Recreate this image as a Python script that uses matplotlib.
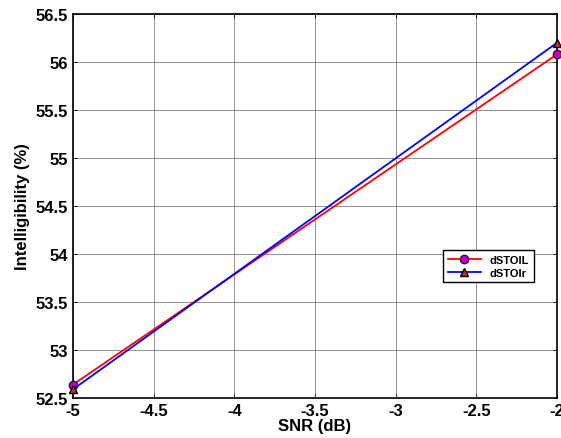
import matplotlib.pyplot as plt

snr = [-5, -2]
dstoil = [52.64, 56.08]
dstoir = [52.59, 56.20]

plt.rcParams['font.family'] = ['Liberation Sans', 'DejaVu Sans']
plt.rcParams['font.weight'] = 'bold'

fig = plt.figure(figsize=(5.61, 4.39), dpi=100)
ax = fig.add_axes([0.130, 0.091, 0.863, 0.875])

ax.plot(snr, dstoil, color='red', lw=1.3, marker='o', markersize=6,
        markerfacecolor='#bf00bf', markeredgecolor='#400040', label='dSTOIL', clip_on=False, zorder=3)
ax.plot(snr, dstoir, color='blue', lw=1.3, marker='^', markersize=6,
        markerfacecolor='#cc3300', markeredgecolor='black', label='dSTOIr', clip_on=False, zorder=3)

ax.set_xlim(-5, -2)
ax.set_ylim(52.5, 56.5)
ax.set_xticks([-5, -4.5, -4, -3.5, -3, -2.5, -2])
ax.set_xticklabels(['-5', '-4.5', '-4', '-3.5', '-3', '-2.5', '-2'])
ax.set_yticks([52.5, 53, 53.5, 54, 54.5, 55, 55.5, 56, 56.5])
ax.set_yticklabels(['52.5', '53', '53.5', '54', '54.5', '55', '55.5', '56', '56.5'])
ax.tick_params(direction='in', length=3, labelsize=12, width=0.6, top=True, right=True,
               labeltop=False, labelright=False)
ax.grid(True, color='#808080', lw=0.6)
for s in ax.spines.values():
    s.set_linewidth(1.2)

ax.set_xlabel('SNR (dB)', fontsize=12, fontweight='bold', labelpad=0)
ax.set_ylabel('Intelligibility (%)', fontsize=12, fontweight='bold', labelpad=4)

leg = ax.legend(loc='upper left', bbox_to_anchor=(0.765, 0.385), fontsize=8,
                frameon=True, fancybox=False, edgecolor='black', framealpha=1,
                handlelength=3.0, borderpad=0.4, labelspacing=0.3, borderaxespad=0)
leg.get_frame().set_linewidth(1.0)

fig.savefig('out.png', dpi=100)
